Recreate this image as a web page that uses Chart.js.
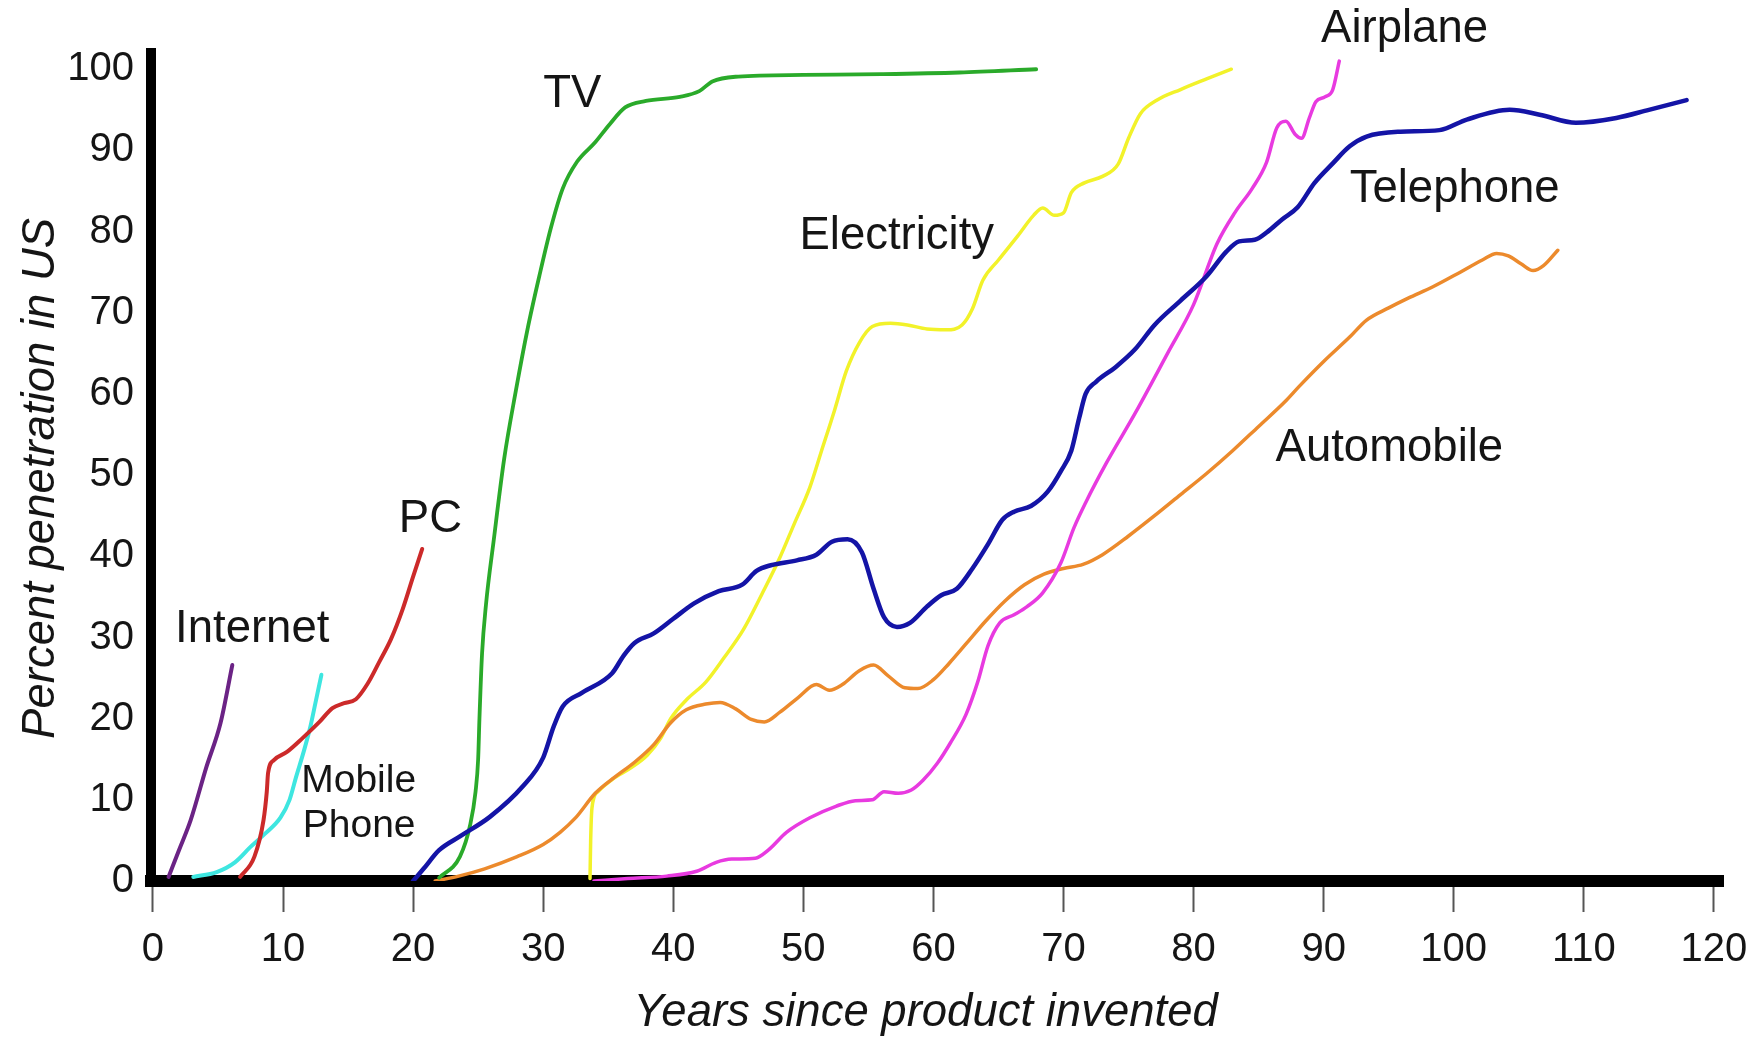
<!DOCTYPE html>
<html>
<head>
<meta charset="utf-8">
<title>Technology adoption in the US</title>
<script src="https://cdn.jsdelivr.net/npm/chart.js@4.4.1/dist/chart.umd.min.js"></script>
<style>
  html, body { margin: 0; padding: 0; background: #fff; }
  #wrap { width: 1749px; height: 1038px; }
</style>
</head>
<body>
<div id="wrap"><canvas id="chart" width="1749" height="1038"></canvas></div>
<script>
const FONT = '"Liberation Sans", Arial, Helvetica, sans-serif';

const xTickValues = [0, 10, 20, 30, 40, 50, 60, 70, 80, 90, 100, 110, 120];
const yTickValues = [0, 10, 20, 30, 40, 50, 60, 70, 80, 90, 100];

// [years since invented, % penetration]
const internet = [[1.2, 0.5], [2.0, 3.8], [2.9, 7.5], [4.1, 14], [5.2, 19.5], [6.1, 26.6]];
const mobilePhone = [[3.1, 0.5], [4.9, 1.1], [6.3, 2.3], [7.5, 4.2], [8.6, 5.8], [9.8, 7.8], [10.5, 10],
  [11.0, 12.8], [11.6, 16], [12.1, 19], [12.5, 22], [12.95, 25.4]];
const pc = [[6.7, 0.5], [7.8, 3], [8.5, 7.5], [8.75, 11], [8.85, 13.3], [9.3, 14.9], [10.3, 15.9], [11.5, 17.6],
  [12.8, 19.6], [13.8, 21.3], [14.7, 21.9], [15.6, 22.4], [16.5, 24.3], [17.4, 27], [18.3, 29.8], [19.2, 33.5],
  [20.0, 37.5], [20.7, 40.9]];
const tv = [[22.0, 0.4], [23.6, 3], [24.4, 7], [24.8, 11], [25.0, 15], [25.1, 20], [25.3, 28], [25.6, 34],
  [26.2, 42], [27.0, 52], [27.9, 60.4], [28.8, 68], [29.7, 74.5], [30.6, 80.5], [31.5, 85.3], [32.6, 88.6],
  [34.0, 91], [35.1, 93.2], [36.3, 95.3], [37.9, 96.1], [40.5, 96.6], [42.0, 97.3], [43.0, 98.5], [45, 99.1],
  [50, 99.3], [56, 99.4], [62, 99.6], [67.9, 100]];
const electricity = [[33.6, 0.3], [33.65, 5], [33.75, 9], [34.2, 11], [35.3, 12.5], [36.8, 14], [38, 15.5],
  [39, 17.5], [39.8, 20], [41, 22.3], [42.5, 24.5], [43.9, 27.5], [45.4, 31], [46.8, 35.3], [48.1, 39.5],
  [49.3, 44], [50.5, 48.5], [51.4, 53], [52.4, 58], [53.3, 62.8], [54.3, 66.3], [55.3, 68.3], [56.7, 68.7],
  [58, 68.5], [59.5, 68], [61, 67.9], [62.2, 68.5], [63, 70.5], [63.8, 74], [65, 76.5], [66.5, 79.5], [67.7, 82],
  [68.4, 82.9], [69.3, 82], [70, 82.3], [70.6, 84.8], [71.6, 86], [73, 86.8], [74.2, 88.3], [75, 91.5],
  [75.9, 94.5], [77.2, 96.2], [79, 97.5], [81, 98.8], [82.9, 100]];
const telephone = [[20, 0], [20.8, 1.5], [22, 3.8], [23.6, 5.5], [25.9, 7.9], [28.4, 11.6], [30.0, 15.2],
  [30.8, 19], [31.5, 21.5], [33, 23.2], [35.3, 25.6], [36.2, 27.8], [37, 29.3], [38.5, 30.5], [40, 32.3],
  [41.6, 34.2], [43.5, 35.7], [45.3, 36.5], [46.4, 38.2], [47.5, 38.9], [49.5, 39.5], [51, 40.2], [52.2, 41.8],
  [53.4, 42.1], [54.5, 40.5], [55.4, 36], [56.2, 32.5], [57.2, 31.3], [58.2, 31.8], [59.5, 33.8], [60.6, 35.2],
  [61.8, 36], [63, 38.5], [64.2, 41.5], [65.3, 44.5], [66.2, 45.5], [67.5, 46.2], [68.8, 48], [69.8, 50.5],
  [70.6, 53], [71.2, 57], [71.7, 60], [72.5, 61.5], [74, 63.3], [75.5, 65.5], [77, 68.5], [79, 71.5], [81, 74.5],
  [82.5, 77.5], [83.5, 78.8], [84.7, 79], [85.7, 80], [86.8, 81.5], [88, 83], [89.3, 86], [90.7, 88.4], [92, 90.5],
  [93.3, 91.7], [95.9, 92.3], [98.9, 92.5], [101, 93.8], [104.3, 95], [106.6, 94.4], [109.4, 93.4], [112.5, 94],
  [115, 95], [117.9, 96.2]];
const automobile = [[21.7, 0], [23.5, 0.6], [25.5, 1.5], [28, 3], [30, 4.5], [31.3, 6], [32.5, 7.8], [34, 10.8],
  [35.5, 12.8], [37, 14.6], [38.5, 16.8], [39.8, 19.5], [41, 21.1], [42.5, 21.8], [43.6, 22], [44.8, 21.2],
  [46, 19.9], [47, 19.6], [48.2, 20.8], [49.6, 22.6], [51, 24.2], [52, 23.5], [53, 24.2], [54.3, 25.9],
  [55.4, 26.6], [56.5, 25.3], [57.8, 23.8], [58.8, 23.7], [60, 24.8], [61.2, 26.8], [62.5, 29.2], [64, 32],
  [65.5, 34.5], [67, 36.5], [68.5, 37.8], [70, 38.5], [71.5, 39], [73, 40.2], [75, 42.5], [77, 45], [79, 47.6],
  [81, 50.2], [83, 53], [85, 56], [87, 59], [88.1, 60.9], [90, 64], [92, 67], [93.3, 69.1], [95, 70.6],
  [96.5, 71.8], [98.4, 73.2], [100.5, 75], [102.2, 76.5], [103.3, 77.3], [104.2, 77], [105.2, 76], [106.1, 75.2],
  [106.9, 75.8], [108, 77.7]];
const airplane = [[33.9, 0], [36.5, 0.3], [39.5, 0.6], [41.8, 1.2], [43.3, 2.3], [44.5, 2.7], [46.3, 2.8],
  [47.3, 3.8], [48.7, 6], [50.5, 7.8], [52.5, 9.2], [54, 9.9], [55.3, 10], [56.2, 11], [57.3, 10.8], [58.3, 11.2],
  [59.2, 12.4], [60.3, 14.5], [61.3, 17], [62.5, 20.5], [63.4, 24.5], [64.2, 29], [65.1, 31.8], [66.2, 32.8],
  [67.2, 33.8], [68.4, 35.5], [69.8, 39.2], [70.8, 43.5], [71.7, 46.6], [73.3, 51.5], [75.5, 57.6], [78, 65],
  [80, 71], [81.8, 78.5], [83.2, 82.4], [84.5, 85.3], [85.6, 88.5], [86.4, 92.8], [87.1, 93.6], [87.8, 92],
  [88.3, 91.5], [88.9, 94], [89.4, 96], [90.1, 96.6], [90.7, 97.5], [91.2, 101]];

const series = [
  { name: "Telephone", points: telephone, color: "#1414a6", width: 4.5 },
  { name: "Internet", points: internet, color: "#6b2385", width: 4 },
  { name: "PC", points: pc, color: "#cc2a2a", width: 4 },
  { name: "Mobile Phone", points: mobilePhone, color: "#3ee6e0", width: 4 },
  { name: "TV", points: tv, color: "#2aaa2a", width: 3.8 },
  { name: "Airplane", points: airplane, color: "#e83ae0", width: 3.5 },
  { name: "Automobile", points: automobile, color: "#ec8a2c", width: 3.5 },
  { name: "Electricity", points: electricity, color: "#f2f22a", width: 3.5 },
];

// text labels, anchored in chart units (left edge, baseline)
const seriesLabels = [
  { text: ["Internet"], year: 1.7, pct: 29.4, size: 45.5 },
  { text: ["TV"], year: 30.0, pct: 95.3, size: 45.5 },
  { text: ["Electricity"], year: 49.7, pct: 77.8, size: 45.5 },
  { text: ["Airplane"], year: 89.8, pct: 103.3, size: 45.5 },
  { text: ["Telephone"], year: 92.0, pct: 83.7, size: 45.5 },
  { text: ["Automobile"], year: 86.3, pct: 51.7, size: 45.5 },
  { text: ["PC"], year: 18.9, pct: 43.0, size: 45.5 },
  { text: ["Mobile", "Phone"], year: 11.4, pct: 11.0, size: 39 },
];

const labelPlugin = {
  id: "seriesLabels",
  afterDatasetsDraw(chart) {
    const { ctx, scales: { x, y } } = chart;
    ctx.save();
    ctx.fillStyle = "#151515";
    ctx.textAlign = "left";
    ctx.textBaseline = "alphabetic";
    seriesLabels.forEach(l => {
      ctx.font = `${l.size}px ${FONT}`;
      const px = x.getPixelForValue(l.year);
      const py = y.getPixelForValue(l.pct);
      l.text.forEach((line, i) => ctx.fillText(line, px + i * 1.5, py + i * l.size * 1.16));
    });
    ctx.restore();
  }
};

new Chart(document.getElementById("chart"), {
  type: "line",
  data: {
    datasets: series.map(s => ({
      label: s.name,
      data: s.points.map(([x, y]) => ({ x, y })),
      borderColor: s.color,
      borderWidth: s.width,
      pointRadius: 0,
      fill: false,
      cubicInterpolationMode: "monotone",
      borderCapStyle: "round",
      borderJoinStyle: "round",
    })),
  },
  options: {
    responsive: false,
    animation: false,
    devicePixelRatio: 1,
    layout: { padding: { left: 0, right: 26, top: 53, bottom: 0 } },
    plugins: { legend: { display: false }, tooltip: { enabled: false } },
    scales: {
      x: {
        type: "linear",
        min: -0.15,
        max: 120.7,
        afterBuildTicks: s => { s.ticks = xTickValues.map(v => ({ value: v })); },
        afterFit: s => { s.height = 157; s.paddingLeft = 0; s.paddingRight = 0; },
        grid: { display: true, drawOnChartArea: false, drawTicks: true, tickLength: 31, tickColor: "#555", tickWidth: 2 },
        border: { display: true, color: "#000", width: 12 },
        ticks: { color: "#151515", padding: 14, autoSkip: false, maxRotation: 0, font: { family: FONT, size: 40 } },
        title: {
          display: true, text: "Years since product invented\u2002", color: "#151515",
          font: { family: FONT, size: 45.5, style: "italic", lineHeight: 1.1 }, padding: { top: 0, bottom: 0 },
        },
      },
      y: {
        min: 0,
        max: 102,
        afterBuildTicks: s => { s.ticks = yTickValues.map(v => ({ value: v })); },
        afterFit: s => { s.width = 151; s.paddingTop = 0; s.paddingBottom = 0; },
        grid: { display: false, drawTicks: false },
        border: { display: true, color: "#000", width: 10 },
        ticks: { color: "#151515", padding: 17, font: { family: FONT, size: 40 } },
        title: {
          display: true, text: "Percent penetration in US\u2002", color: "#151515",
          font: { family: FONT, size: 45.5, style: "italic" }, padding: { top: 14, bottom: 0 },
        },
      },
    },
  },
  plugins: [labelPlugin],
});
</script>
</body>
</html>
